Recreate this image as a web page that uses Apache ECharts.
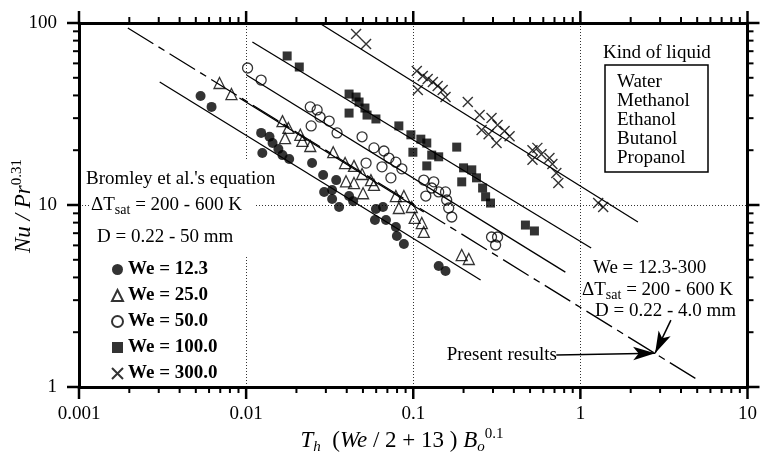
<!DOCTYPE html>
<html>
<head>
<meta charset="utf-8">
<script src="https://cdn.jsdelivr.net/npm/echarts@6.0.0/dist/echarts.min.js"></script>
<style>
  html, body { margin: 0; padding: 0; background: #fff; }
  #chart { width: 760px; height: 460px; }
</style>
</head>
<body>
<div id="chart"></div>
<script>
// --- axis decades / labels ---
const xDecades = [0.001, 0.01, 0.1, 1, 10];
const yDecades = [1, 10, 100];
const liquids = ['Water', 'Methanol', 'Ethanol', 'Butanol', 'Propanol'];
const weNames = ['We = 12.3', 'We = 25.0', 'We = 50.0', 'We = 100.0', 'We = 300.0'];

// --- measured points [x, Nu/Pr^0.31] ---
const we12 = [[0.00534,39.7],[0.00621,34.6],[0.0123,24.9],[0.0138,23.7],[0.0144,21.9],[0.0125,19.3],[0.0156,20.3],[0.0165,18.8],[0.0181,17.9],[0.0248,17.0],[0.0289,14.6],[0.0346,13.7],[0.0293,11.8],[0.0327,12.1],[0.0327,10.8],[0.0360,9.75],[0.0413,11.2],[0.0437,10.5],[0.0598,9.5],[0.0659,9.75],[0.059,8.27],[0.0687,8.27],[0.0787,7.57],[0.0798,6.76],[0.0879,6.11],[0.142,4.62],[0.156,4.34]];
const we25 = [[0.00693,46.8],[0.00817,40.7],[0.0165,28.9],[0.0179,26.5],[0.0171,23.3],[0.0211,24.3],[0.0217,22.5],[0.0242,21.1],[0.0332,19.5],[0.0391,17.0],[0.0442,16.4],[0.0494,14.8],[0.0558,13.7],[0.0396,13.5],[0.0442,13.2],[0.0582,12.9],[0.0501,11.6],[0.0787,11.2],[0.0879,11.2],[0.082,9.63],[0.098,9.75],[0.102,8.49],[0.1125,7.96],[0.1156,7.11],[0.195,5.31],[0.215,5.05]];
const we50 = [[0.0102,56.6],[0.0123,48.6],[0.0242,34.6],[0.0266,33.3],[0.0245,27.2],[0.0277,30.4],[0.0314,28.9],[0.035,24.9],[0.0494,23.7],[0.0582,20.6],[0.0668,19.8],[0.0715,18.1],[0.0787,17.2],[0.0855,15.8],[0.065,16.2],[0.0522,17.0],[0.0735,14.1],[0.1156,13.7],[0.1327,13.4],[0.129,12.4],[0.1189,11.2],[0.142,11.8],[0.156,11.8],[0.1585,10.65],[0.163,9.63],[0.170,8.59],[0.294,6.67],[0.3195,6.67],[0.311,6.03]];
const we100 = [[0.0176,65.9],[0.0208,57.3],[0.0413,40.7],[0.0455,39.2],[0.0413,32.0],[0.0474,36.8],[0.0514,34.1],[0.0529,31.2],[0.0598,29.7],[0.082,27.2],[0.0968,24.3],[0.111,23.0],[0.1205,21.9],[0.0995,19.5],[0.129,18.8],[0.142,18.4],[0.1205,16.4],[0.182,20.8],[0.200,16.0],[0.224,15.6],[0.195,13.4],[0.239,14.1],[0.26,12.4],[0.271,11.1],[0.29,10.25],[0.469,7.76],[0.531,7.2]];
const we300 = [[0.0455,87.0],[0.0522,76.7],[0.105,54.5],[0.114,51.2],[0.122,49.2],[0.131,47.4],[0.140,45.1],[0.150,42.8],[0.156,39.2],[0.1065,42.8],[0.212,36.8],[0.2495,31.2],[0.294,30.1],[0.2564,25.8],[0.2824,24.5],[0.3195,27.5],[0.352,25.5],[0.377,23.9],[0.315,21.9],[0.517,20.0],[0.553,20.6],[0.517,17.7],[0.585,19.0],[0.653,18.1],[0.68,16.8],[0.718,15.0],[0.738,13.2],[1.278,10.25],[1.369,9.75]];

// --- Bromley et al. lines (end points) and present correlation ---
const line12 = [[0.00304,47.4],[0.253,3.87]];
const line25 = [[0.00912,38.7],[0.1156,9.15]];
const line50 = [[0.01005,51.8],[0.813,4.28]];
const line100 = [[0.0109,78.6],[1.16,5.80]];
const line300 = [[0.0274,100],[2.21,8.07]];
const presentLine = [[0.00196,93.9],[5.05,1.093]];

// arrow annotation points
const arrowTip = [2.8, 1.535];
const arrowFromText = [0.718, 1.50];
const arrowFromNote = [3.48, 2.33];

const serif = "'Liberation Serif', 'Times New Roman', serif";
const chart = echarts.init(document.getElementById('chart'));

// tick positions: decades (major) and 2..9 inside each decade (minor)
const ticksOf = decs => {
  const out = [];
  decs.forEach((d, k) => {
    out.push([d, 12, 2.5]);
    if (k < decs.length - 1) for (let m = 2; m <= 9; m++) out.push([+(d * m).toPrecision(3), 6, 2]);
  });
  return out;
};
const xTicks = ticksOf(xDecades);
const yTicks = ticksOf(yDecades);
const xMin = xDecades[0], xMax = xDecades[xDecades.length - 1];
const yMin = yDecades[0], yMax = yDecades[yDecades.length - 1];

function mainAxis(dim, pos) {
  const labelled = pos === 'bottom' || pos === 'left';
  return {
    type: 'log', logBase: 10, position: pos,
    min: dim === 'x' ? xMin : yMin, max: dim === 'x' ? xMax : yMax,
    axisLine: { show: true, onZero: false, lineStyle: { color: '#000', width: 3 } },
    axisTick: { show: false },
    axisLabel: { show: labelled, margin: dim === 'x' ? 18 : 22, color: '#000', fontFamily: serif, fontSize: 19 },
    splitLine: { show: labelled, lineStyle: { color: '#333', width: 1, type: [1, 2] } }
  };
}

// outward ticks on all four sides, placed through the axis scales
const tickStyle = w => ({ stroke: '#000', lineWidth: w });
const xTickSeries = {
  type: 'custom', silent: true, clip: false, z: 4,
  data: xTicks.map(t => [t[0], yMin, t[1], t[2]]),
  renderItem: (params, api) => {
    const v = api.value(0), len = api.value(2), w = api.value(3);
    const b = api.coord([v, yMin]), t = api.coord([v, yMax]);
    return { type: 'group', children: [
      { type: 'line', shape: { x1: b[0], y1: b[1], x2: b[0], y2: b[1] + len }, style: tickStyle(w) },
      { type: 'line', shape: { x1: t[0], y1: t[1], x2: t[0], y2: t[1] - len }, style: tickStyle(w) }
    ] };
  }
};
const yTickSeries = {
  type: 'custom', silent: true, clip: false, z: 4,
  data: yTicks.map(t => [xMin, t[0], t[1], t[2]]),
  renderItem: (params, api) => {
    const v = api.value(1), len = api.value(2), w = api.value(3);
    const l = api.coord([xMin, v]), r = api.coord([xMax, v]);
    return { type: 'group', children: [
      { type: 'line', shape: { x1: l[0], y1: l[1], x2: l[0] - len, y2: l[1] }, style: tickStyle(w) },
      { type: 'line', shape: { x1: r[0], y1: r[1], x2: r[0] + len, y2: r[1] }, style: tickStyle(w) }
    ] };
  }
};

const scatterStyles = [
  { symbol: 'circle', symbolSize: 10, itemStyle: { color: '#000' } },
  { symbol: 'triangle', symbolSize: 11, itemStyle: { color: 'rgba(0,0,0,0)', borderColor: '#000', borderWidth: 1.3 } },
  { symbol: 'circle', symbolSize: 10, itemStyle: { color: 'rgba(0,0,0,0)', borderColor: '#000', borderWidth: 1.3 } },
  { symbol: 'rect', symbolSize: 9, itemStyle: { color: '#000' } },
  { symbol: 'path://M0,0L10,10M0,10L10,0', symbolSize: 10, itemStyle: { color: 'rgba(0,0,0,0)', borderColor: '#000', borderWidth: 1.4 } }
];
const pointSets = [we12, we25, we50, we100, we300];

const series = [xTickSeries, yTickSeries];
[line12, line25, line50, line100, line300].forEach(l => series.push({
  type: 'line', data: l, symbol: 'none', silent: true, z: 2,
  lineStyle: { color: '#000', width: 1.3 }
}));
series.push({
  type: 'line', data: presentLine, symbol: 'none', silent: true, z: 2,
  lineStyle: { color: '#000', width: 1.3, type: [30, 6, 7, 6] },
  markLine: {
    silent: true, symbol: ['none', 'arrow'], symbolSize: [10, 22], animation: false,
    label: { show: false },
    lineStyle: { color: '#000', width: 1.5, type: 'solid' },
    data: [
      [{ coord: arrowFromText }, { coord: arrowTip }],
      [{ coord: arrowFromNote }, { coord: arrowTip }]
    ]
  }
});
pointSets.forEach((d, i) => series.push(Object.assign({
  name: weNames[i], type: 'scatter', data: d, z: 3
}, scatterStyles[i])));

const rich = {
  n: { fontFamily: serif, fontSize: 19, lineHeight: 24, verticalAlign: 'middle' },
  s: { fontFamily: serif, fontSize: 14, lineHeight: 14, verticalAlign: 'bottom' }
};
const txt = (x, y, text, align) => ({
  type: 'text', x, y, z: 5,
  style: { text, fill: '#000', font: `19px ${serif}`, textAlign: align || 'left', align: align || 'left', textVerticalAlign: 'middle', verticalAlign: 'middle' }
});
const dtSat = (x, y) => ({
  type: 'text', x, y, z: 5,
  style: { text: '{n|ΔT}{s|sat}{n| = 200 - 600 K}', rich, fill: '#000', textAlign: 'left', align: 'left', textVerticalAlign: 'middle', verticalAlign: 'middle' }
});

const titleRich = {
  i: { fontFamily: serif, fontSize: 23, fontStyle: 'italic', lineHeight: 28, verticalAlign: 'middle' },
  n: { fontFamily: serif, fontSize: 23, lineHeight: 28, verticalAlign: 'middle' },
  sub: { fontFamily: serif, fontSize: 15, fontStyle: 'italic', lineHeight: 15, verticalAlign: 'bottom' },
  sup: { fontFamily: serif, fontSize: 15, lineHeight: 15, verticalAlign: 'top' }
};

const graphics = [
  { type: 'rect', z: 1, shape: { x: 84, y: 159, width: 196, height: 34 }, style: { fill: '#fff' } },
  { type: 'rect', z: 1, shape: { x: 89, y: 193, width: 167, height: 63 }, style: { fill: '#fff' } },
  txt(86, 179, "Bromley et al.'s equation"),
  dtSat(91, 205),
  txt(97, 237, 'D = 0.22 - 50 mm'),
  txt(603, 53, 'Kind of liquid'),
  { type: 'rect', z: 5, shape: { x: 605, y: 65, width: 103, height: 107 }, style: { fill: 'none', stroke: '#000', lineWidth: 1.5 } },
  txt(593, 268, 'We = 12.3-300'),
  dtSat(582, 290),
  txt(595, 311, 'D = 0.22 - 4.0 mm'),
  txt(557, 355, 'Present results', 'right'),
  {
    type: 'text', x: 402, y: 441, z: 5,
    style: { text: '{i|T}{sub|h}{n|  (}{i|We}{n| / 2 + 13 ) }{i|B}{sub|o}{sup|0.1}', rich: titleRich, fill: '#000', textAlign: 'center', align: 'center', textVerticalAlign: 'middle', verticalAlign: 'middle' }
  },
  {
    type: 'text', x: 24, y: 206, z: 5, rotation: Math.PI / 2,
    style: { text: '{i|Nu / Pr}{sup|0.31}', rich: titleRich, fill: '#000', textAlign: 'center', align: 'center', textVerticalAlign: 'middle', verticalAlign: 'middle' }
  }
];
liquids.forEach((name, i) => graphics.push(txt(617, 82 + i * 19, name)));

chart.setOption({
  animation: false,
  backgroundColor: '#fff',
  grid: { left: 79, top: 23, right: 10, bottom: 73 },
  xAxis: [mainAxis('x', 'bottom'), mainAxis('x', 'top')],
  yAxis: [mainAxis('y', 'left'), mainAxis('y', 'right')],
  legend: {
    data: weNames, orient: 'vertical', left: 106, top: 255,
    itemWidth: 11, itemHeight: 11, itemGap: 7, selectedMode: false,
    textStyle: { fontFamily: serif, fontSize: 19, fontWeight: 'bold', color: '#000', lineHeight: 19 }
  },
  graphic: graphics,
  series
});
</script>
</body>
</html>
